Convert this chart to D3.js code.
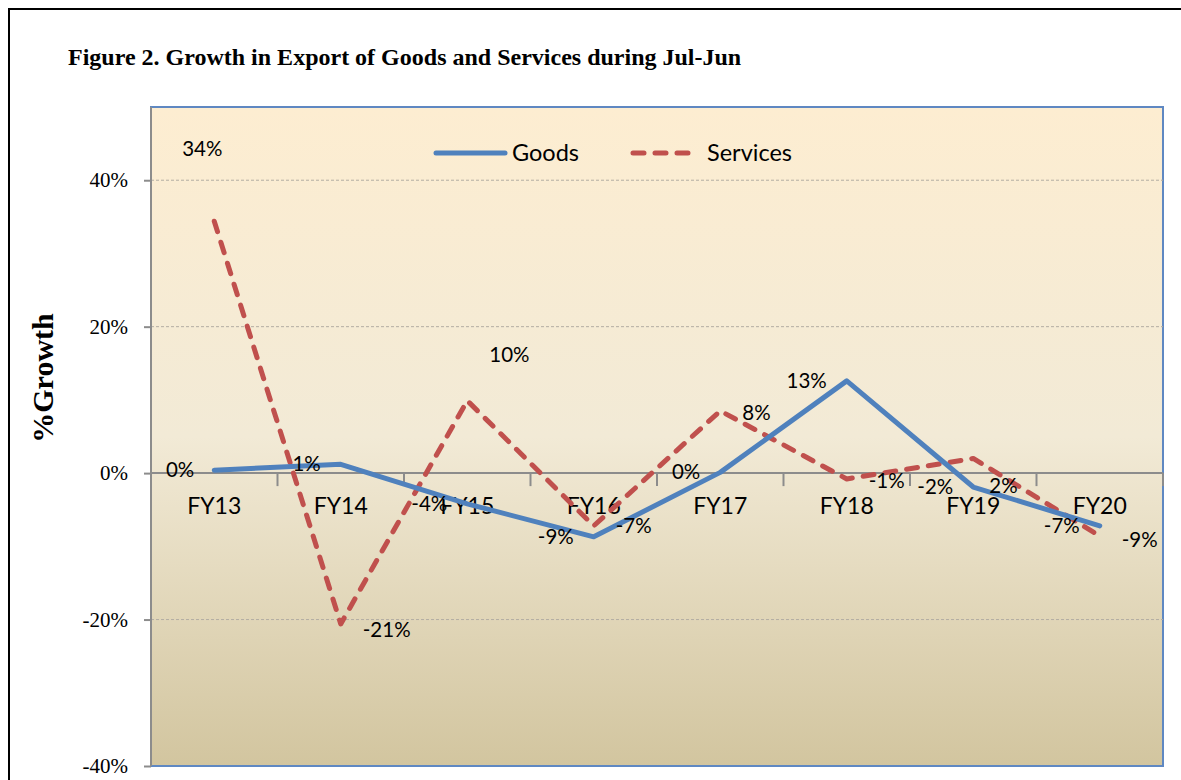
<!DOCTYPE html>
<html>
<head>
<meta charset="utf-8">
<script src="https://cdn.jsdelivr.net/npm/d3@7"></script>
<style>
  body { margin: 0; background: #fff; }
  svg { display: block; }
</style>
</head>
<body>
<svg id="chart" width="1181" height="780"></svg>
<script>
// data
var years = ["FY13", "FY14", "FY15", "FY16", "FY17", "FY18", "FY19", "FY20"];
var goods = [0.4, 1.2, -4.2, -8.7, 0.1, 12.6, -1.9, -7.2];
var services = [34.4, -20.6, 9.9, -7.2, 8.5, -0.8, 2.0, -8.6];
var goodsLabels = ["0%", "1%", "-4%", "-9%", "0%", "13%", "-2%", "-7%"];
var servicesLabels = ["34%", "-21%", "10%", "-7%", "8%", "-1%", "2%", "-9%"];
var yTicks = [-40, -20, 0, 20, 40];

// label nudges (excel labels were dragged around by hand)
var goodsLabelDx = -20;
var servicesLabelOff = [[-12, -72], [22, 6], [22, -46], [22, 0], [22, 2], [22, 2], [16, 28], [22, 4]];

var svg = d3.select("#chart");

// outer frame
svg.append("rect")
    .attr("x", 9).attr("y", 9)
    .attr("width", 1200).attr("height", 1000)
    .style("fill", "none")
    .style("stroke", "#000")
    .style("stroke-width", 2);

// title
svg.append("text")
    .attr("x", 68).attr("y", 65)
    .style("font-family", "'Liberation Serif', 'Times New Roman', serif")
    .style("font-weight", "bold")
    .style("font-size", "24px")
    .text("Figure 2. Growth in Export of Goods and Services during Jul-Jun");

// plot area config
var px0 = 151, px1 = 1163, py0 = 107, py1 = 766;

var x = d3.scaleBand().domain(years).range([px0, px1]);
var y = d3.scaleLinear().domain([-40, 50]).range([py1, py0]);

var defs = svg.append("defs");
var grad = defs.append("linearGradient")
    .attr("id", "bg")
    .attr("x1", 0).attr("y1", 0).attr("x2", 0).attr("y2", 1);
grad.append("stop").attr("offset", "0%").attr("stop-color", "#fdedd1");
grad.append("stop").attr("offset", "50%").attr("stop-color", "#f2ead6");
grad.append("stop").attr("offset", "100%").attr("stop-color", "#d2c59f");

svg.append("rect")
    .attr("x", px0).attr("y", py0)
    .attr("width", px1 - px0).attr("height", py1 - py0)
    .style("fill", "url(#bg)")
    .style("stroke", "#5f88c2")
    .style("stroke-width", 2);

// gridlines (dashed)
svg.append("g").selectAll("line")
    .data(yTicks.filter(function(d) { return d != 0 && d != -40; }))
    .enter().append("line")
    .attr("x1", px0).attr("x2", px1)
    .attr("y1", function(d) { return y(d); })
    .attr("y2", function(d) { return y(d); })
    .style("stroke", "#b3aea3")
    .style("stroke-width", 1)
    .style("stroke-dasharray", "3,2");

// y axis
var yAxis = svg.append("g")
    .attr("transform", "translate(" + px0 + ",0)")
    .call(d3.axisLeft(y).tickValues(yTicks).tickSize(7).tickPadding(16)
        .tickFormat(function(d) { return d + "%"; }));
yAxis.select(".domain").attr("d", "M0," + py0 + "V" + py1).style("stroke", "#8c8c8c").style("stroke-width", 2);
yAxis.selectAll(".tick line").style("stroke", "#8c8c8c").style("stroke-width", 2);
yAxis.selectAll(".tick text")
    .style("font-family", "'Liberation Serif', 'Times New Roman', serif")
    .style("font-size", "21px")
    .style("fill", "#000");

// x axis on the zero line, ticks at band edges
var xg = svg.append("g").attr("transform", "translate(0," + y(0) + ")");
xg.append("line")
    .attr("x1", px0).attr("x2", px1)
    .style("stroke", "#8c8c8c").style("stroke-width", 2);
xg.selectAll("line.tk")
    .data(years.slice(1).concat(["end"]))
    .enter().append("line")
    .attr("class", "tk")
    .attr("x1", function(d, i) { return px0 + x.step() * (i + 1); })
    .attr("x2", function(d, i) { return px0 + x.step() * (i + 1); })
    .attr("y1", 0).attr("y2", 13)
    .style("stroke", "#8c8c8c").style("stroke-width", 2);
xg.selectAll("text")
    .data(years)
    .enter().append("text")
    .attr("x", function(d) { return x(d) + x.bandwidth() / 2; })
    .attr("y", 41)
    .attr("text-anchor", "middle")
    .style("font-family", "Lato, 'Open Sans', sans-serif")
    .style("font-size", "23px")
    .text(function(d) { return d; });

// y axis title
svg.append("text")
    .attr("transform", "translate(53,378) rotate(-90)")
    .attr("text-anchor", "middle")
    .style("font-family", "'Liberation Serif', 'Times New Roman', serif")
    .style("font-weight", "bold")
    .style("font-size", "30px")
    .text("%Growth");

// lines
var cx = function(d, i) { return x(years[i]) + x.bandwidth() / 2; };
var line = d3.line()
    .x(cx)
    .y(function(d) { return y(d); });

svg.append("path")
    .datum(services)
    .attr("d", line)
    .style("fill", "none")
    .style("stroke", "#c0504d")
    .style("stroke-width", 5)
    .style("stroke-linecap", "round")
    .style("stroke-linejoin", "round")
    .style("stroke-dasharray", "11,11");

svg.append("path")
    .datum(goods)
    .attr("d", line)
    .style("fill", "none")
    .style("stroke", "#4f81bd")
    .style("stroke-width", 5)
    .style("stroke-linecap", "round")
    .style("stroke-linejoin", "round");

// data labels
var lblFont = "Lato, 'Open Sans', sans-serif";
svg.append("g").selectAll("text")
    .data(goods)
    .enter().append("text")
    .attr("x", function(d, i) { return cx(d, i) + goodsLabelDx; })
    .attr("y", function(d) { return y(d) + 7; })
    .attr("text-anchor", "end")
    .style("font-family", lblFont)
    .style("font-size", "20.5px")
    .text(function(d, i) { return goodsLabels[i]; });

svg.append("g").selectAll("text")
    .data(services)
    .enter().append("text")
    .attr("x", function(d, i) { return cx(d, i) + servicesLabelOff[i][0]; })
    .attr("y", function(d, i) { return y(d) + 7 + servicesLabelOff[i][1]; })
    .attr("text-anchor", function(d, i) { return i == 0 ? "middle" : "start"; })
    .style("font-family", lblFont)
    .style("font-size", "20.5px")
    .text(function(d, i) { return servicesLabels[i]; });

// legend
var legend = svg.append("g").attr("transform", "translate(0,153)");
var legendItems = [
    {name: "Goods", color: "#4f81bd", dash: null, x0: 436, x1: 505, tx: 512},
    {name: "Services", color: "#c0504d", dash: "11,11", x0: 633, x1: 692, tx: 707}
];
legend.selectAll("line")
    .data(legendItems)
    .enter().append("line")
    .attr("x1", function(d) { return d.x0; })
    .attr("x2", function(d) { return d.x1; })
    .style("stroke", function(d) { return d.color; })
    .style("stroke-width", 5)
    .style("stroke-linecap", "round")
    .style("stroke-dasharray", function(d) { return d.dash; });
legend.selectAll("text")
    .data(legendItems)
    .enter().append("text")
    .attr("x", function(d) { return d.tx; })
    .attr("y", 8)
    .style("font-family", lblFont)
    .style("font-size", "23.5px")
    .text(function(d) { return d.name; });
</script>
</body>
</html>
